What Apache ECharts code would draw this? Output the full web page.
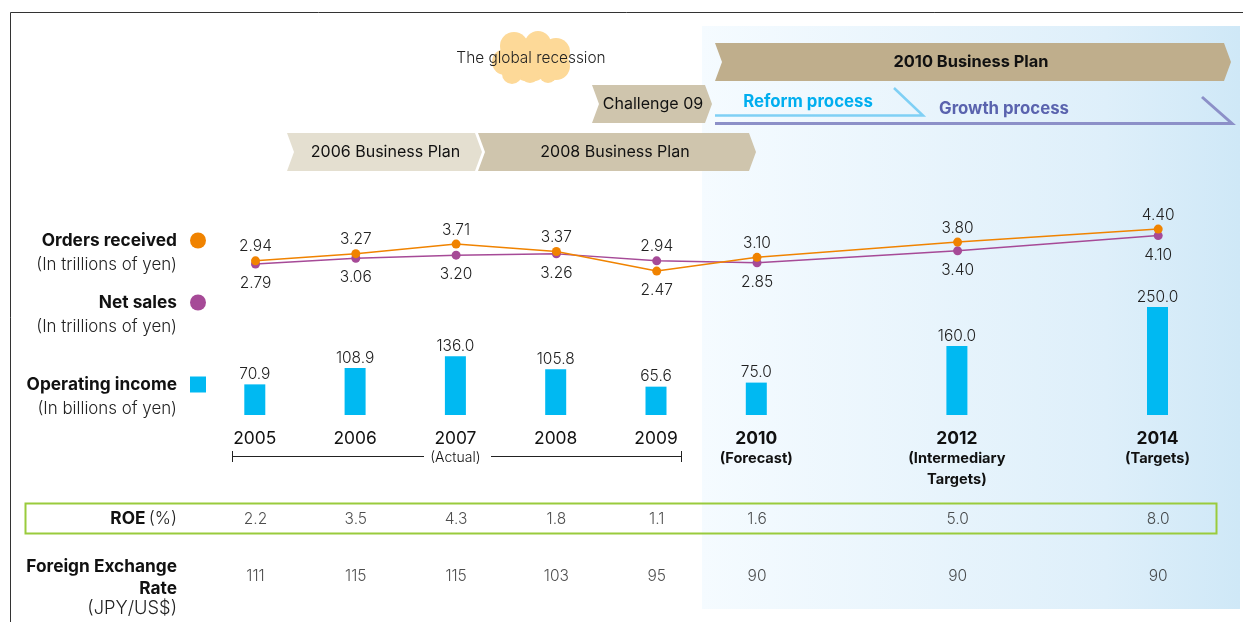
<!DOCTYPE html>
<html>
<head>
<meta charset="utf-8">
<title>Business plan results and targets</title>
<script src="https://cdn.jsdelivr.net/npm/echarts@6/dist/echarts.min.js"></script>
<style>
  html, body { margin: 0; padding: 0; background: #fff; }
  #main { width: 1243px; height: 622px; }
</style>
</head>
<body>
<div id="main"></div>
<script>
  var years = [2005, 2006, 2007, 2008, 2009, 2010, 2012, 2014];
  var forecastFrom = 2010;
  var orders = [2.94, 3.27, 3.71, 3.37, 2.47, 3.10, 3.80, 4.40];
  var netSales = [2.79, 3.06, 3.20, 3.26, 2.94, 2.85, 3.40, 4.10];
  var opIncome = [70.9, 108.9, 136.0, 105.8, 65.6, 75.0, 160.0, 250.0];
  var roe = [2.2, 3.5, 4.3, 1.8, 1.1, 1.6, 5.0, 8.0];
  var fxRate = [111, 115, 115, 103, 95, 90, 90, 90];
  var yearNotes = { 2007: '(Actual)', 2010: '(Forecast)', 2012: '(Intermediary\nTargets)', 2014: '(Targets)' };

  var FONT = 'Inter';
  var TEXT = '#222';
  var AXIS_LEFT = 205.35, AXIS_WIDTH = 1003;
  var VALUE_SIZE = 15.5, SIDE_SIZE = 17.3, UNIT_SIZE = 16.9;

  var chart = echarts.init(document.getElementById('main'), null, { renderer: 'canvas' });

  // orders sits on top unless net sales beat it that year
  function ordersPoints() {
    return years.map(function(y, i) {
      return { value: [y, orders[i]], label: { position: orders[i] >= netSales[i] ? 'top' : 'bottom', distance: orders[i] >= netSales[i] ? 1.5 : 7 } };
    });
  }
  function netPoints() {
    return years.map(function(y, i) {
      return { value: [y, netSales[i]], label: { position: orders[i] >= netSales[i] ? 'bottom' : 'top', distance: orders[i] >= netSales[i] ? 7 : 1.5 } };
    });
  }
  function rowPoints(arr, row, digits) {
    return years.map(function(y, i) { return [y, row, arr[i].toFixed(digits)]; });
  }
  function rowSeries(arr, row, digits) {
    return {
      type: 'scatter', xAxisIndex: 2, yAxisIndex: 2, symbolSize: 1,
      itemStyle: { color: 'transparent' },
      label: {
        show: true, position: 'inside', color: TEXT, fontFamily: FONT, fontWeight: 300, fontSize: VALUE_SIZE,
        formatter: function(p) { return p.value[2]; }
      },
      data: rowPoints(arr, row, digits)
    };
  }
  function xAxisFor(grid, visible) {
    return {
      type: 'value', gridIndex: grid, min: 2004.5, max: 2014.5, show: visible,
      axisLine: { show: false }, axisTick: { show: false }, splitLine: { show: false },
      axisLabel: {
        show: visible, customValues: years, margin: 14, hideOverlap: false, verticalAlign: 'top',
        formatter: function(v) {
          var head = v >= forecastFrom ? '{yb|' + v + '}' : '{y|' + v + '}';
          var note = yearNotes[v];
          if (!note) return head;
          var style = v >= forecastFrom ? 'nb' : 'n';
          return head + '\n' + note.split('\n').map(function(s) { return '{' + style + '|' + s + '}'; }).join('\n');
        },
        rich: {
          y: { fontFamily: FONT, fontSize: 17.4, fontWeight: 400, color: '#111', lineHeight: 19 },
          yb: { fontFamily: FONT, fontSize: 17.4, fontWeight: 700, color: '#111', lineHeight: 19 },
          n: { fontFamily: FONT, fontSize: 14, fontWeight: 300, color: '#111', lineHeight: 20 },
          nb: { fontFamily: FONT, fontSize: 14.6, fontWeight: 700, color: '#111', lineHeight: 21 }
        }
      }
    };
  }
  function leftText(text, y, bold, size) {
    return {
      type: 'text', z: 5,
      style: {
        x: 177, y: y, text: text, align: 'right', verticalAlign: 'middle', fill: bold ? '#111' : TEXT,
        font: (bold ? '700 ' : '300 ') + (size || SIDE_SIZE) + 'px ' + FONT
      }
    };
  }
  function chevron(x0, x1, y0, y1, fill) {
    var mid = (y0 + y1) / 2;
    return {
      type: 'polygon', z: 1,
      shape: { points: [[x0, y0], [x1 - 7, y0], [x1, mid], [x1 - 7, y1], [x0, y1], [x0 + 7, mid]] },
      style: { fill: fill }
    };
  }
  function planText(text, x, y, weight, fill, size) {
    return {
      type: 'text', z: 5,
      style: {
        x: x, y: y, text: text, align: 'center', verticalAlign: 'middle', fill: fill || '#111',
        font: (weight || 400) + ' ' + (size || 16) + 'px ' + FONT
      }
    };
  }
  function blob(cx, cy, r) {
    return { type: 'circle', z: 1, shape: { cx: cx, cy: cy, r: r }, style: { fill: '#fdd998' } };
  }
  function legendAt(name, icon, top) {
    return {
      data: [name], top: top, right: 1037, align: 'right', orient: 'horizontal', selectedMode: false,
      icon: icon, itemWidth: 16, itemHeight: 16, itemGap: 0, padding: 0,
      textStyle: { fontFamily: FONT, fontWeight: 700, fontSize: SIDE_SIZE, color: '#111', padding: [0, 8, 0, 0] }
    };
  }

  var option = {
    animation: false,
    backgroundColor: '#fff',
    legend: [
      legendAt('Orders received', 'circle', 232),
      legendAt('Net sales', 'circle', 294),
      legendAt('Operating income', 'rect', 376)
    ],
    grid: [
      { left: AXIS_LEFT, width: AXIS_WIDTH, top: 216, height: 65.3 },
      { left: AXIS_LEFT - 0.7, width: AXIS_WIDTH, top: 307, height: 108 },
      { left: AXIS_LEFT, width: AXIS_WIDTH, top: 519, height: 57 }
    ],
    xAxis: [xAxisFor(0, false), xAxisFor(1, true), xAxisFor(2, false)],
    yAxis: [
      { type: 'value', gridIndex: 0, min: 2, max: 5, show: false },
      { type: 'value', gridIndex: 1, min: 0, max: 250, show: false },
      { type: 'category', gridIndex: 2, data: ['FX', 'ROE'], boundaryGap: false, show: false }
    ],
    series: [
      {
        name: 'Net sales', type: 'line', xAxisIndex: 0, yAxisIndex: 0, z: 3,
        symbol: 'circle', symbolSize: 9,
        lineStyle: { color: '#a64a97', width: 1.5 }, itemStyle: { color: '#a64a97' },
        label: { show: true, color: TEXT, fontFamily: FONT, fontWeight: 300, fontSize: VALUE_SIZE, formatter: function(p) { return p.value[1].toFixed(2); } },
        data: netPoints()
      },
      {
        name: 'Orders received', type: 'line', xAxisIndex: 0, yAxisIndex: 0, z: 4,
        symbol: 'circle', symbolSize: 9,
        lineStyle: { color: '#f08300', width: 1.5 }, itemStyle: { color: '#f08300' },
        label: { show: true, color: TEXT, fontFamily: FONT, fontWeight: 300, fontSize: VALUE_SIZE, formatter: function(p) { return p.value[1].toFixed(2); } },
        data: ordersPoints()
      },
      {
        name: 'Operating income', type: 'bar', xAxisIndex: 1, yAxisIndex: 1, barWidth: 21,
        itemStyle: { color: '#00b9f2' },
        label: { show: true, position: 'top', distance: 2, color: TEXT, fontFamily: FONT, fontWeight: 300, fontSize: VALUE_SIZE, formatter: function(p) { return p.value[1].toFixed(1); } },
        data: years.map(function(y, i) { return [y, opIncome[i]]; })
      },
      rowSeries(roe, 'ROE', 1),
      rowSeries(fxRate, 'FX', 0)
    ],
    graphic: { elements: [
      // forecast panel
      {
        type: 'rect', z: -1, shape: { x: 702, y: 26, width: 538, height: 583 },
        style: { fill: new echarts.graphic.LinearGradient(0, 0, 1, 0, [
          { offset: 0, color: '#f5fbff' }, { offset: 0.75, color: '#deeffa' }, { offset: 1, color: '#cfe8f7' }
        ]) }
      },
      // page frame
      { type: 'polyline', z: 1, shape: { points: [[10.5, 622], [10.5, 12.5], [1243, 12.5]] }, style: { stroke: '#333', lineWidth: 1, fill: null } },

      blob(514, 46, 14), blob(538, 44, 13), blob(556, 52, 14), blob(505, 62, 13), blob(530, 60, 22),
      blob(556, 66, 14), blob(512, 74, 10), blob(530, 74, 9), blob(548, 74, 9),
      planText('The global recession', 531, 58.5, 300, TEXT, 15.4),

      chevron(715, 1231, 43, 81, '#bfae8c'),
      planText('2010 Business Plan', 971, 62.5, 700, '#111', 16.4),
      chevron(592, 712, 85, 123, '#cfc5ad'),
      planText('Challenge 09', 653, 104.5, 400),
      chevron(287, 482, 133, 171, '#e4dfd0'),
      planText('2006 Business Plan', 385.5, 152.5, 400),
      chevron(478, 756, 133, 171, '#cfc5ad'),
      planText('2008 Business Plan', 615, 152.5, 400),

      { type: 'polyline', z: 2, shape: { points: [[715, 115.5], [923, 115.5], [894, 88]] }, style: { stroke: '#7fd0f5', lineWidth: 2.5, fill: null } },
      planText('Reform process', 808, 101.5, 700, '#00aeef', 16.8),
      { type: 'polyline', z: 2, shape: { points: [[715, 123.5], [1232, 123.5], [1202, 97]] }, style: { stroke: '#8c90c8', lineWidth: 3, fill: null } },
      planText('Growth process', 1004, 108.5, 700, '#5a63ae', 16.8),

      leftText('(In trillions of yen)', 265, false, UNIT_SIZE),
      leftText('(In trillions of yen)', 327, false, UNIT_SIZE),
      leftText('(In billions of yen)', 409, false, UNIT_SIZE),
      leftText('Foreign Exchange', 566.5, true),
      leftText('Rate', 588.5, true),
      leftText('(JPY/US$)', 609, false, 18.3),
      {
        type: 'text', z: 5,
        style: {
          x: 177, y: 518.5, align: 'right', verticalAlign: 'middle',
          text: '{b|ROE} {r|(%)}',
          rich: {
            b: { font: '700 ' + SIDE_SIZE + 'px ' + FONT, fill: '#111' },
            r: { font: '300 ' + SIDE_SIZE + 'px ' + FONT, fill: TEXT }
          }
        }
      },

      // actual-years bracket
      { type: 'line', z: 2, shape: { x1: 232, y1: 456.5, x2: 424, y2: 456.5 }, style: { stroke: '#222', lineWidth: 1 } },
      { type: 'line', z: 2, shape: { x1: 491, y1: 456.5, x2: 682, y2: 456.5 }, style: { stroke: '#222', lineWidth: 1 } },
      { type: 'line', z: 2, shape: { x1: 232.5, y1: 451, x2: 232.5, y2: 462 }, style: { stroke: '#222', lineWidth: 1 } },
      { type: 'line', z: 2, shape: { x1: 681.5, y1: 451, x2: 681.5, y2: 462 }, style: { stroke: '#222', lineWidth: 1 } },

      // ROE row frame
      { type: 'rect', z: 2, shape: { x: 25.5, y: 503.5, width: 1191, height: 30 }, style: { stroke: '#9acb3c', lineWidth: 2, fill: null } }
    ] }
  };

  chart.setOption(option);
</script>
</body>
</html>
